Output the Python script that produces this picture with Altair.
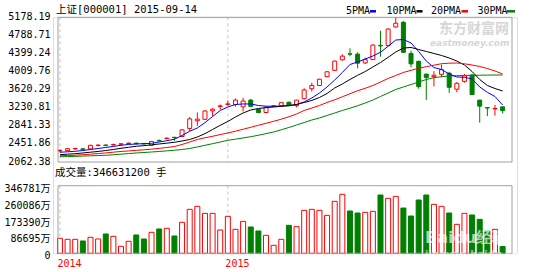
import altair as alt
import pandas as pd

# ---------------- data ----------------
opens = [2300, 2306, 2344, 2346, 2343, 2416, 2428, 2430, 2444, 2459,
         2468, 2462, 2420, 2526, 2565, 2595, 2612, 2785, 2950, 2982,
         3165, 3258, 3300, 3300, 3250, 3395, 3195, 3128, 3262, 3270,
         3350, 3275, 3425, 3640, 3708, 3900, 4035, 4262, 4392, 4385,
         4195, 4268, 4575, 4570, 4970, 5070, 4400, 4230, 3955, 3900,
         3950, 3975, 3630, 3800, 3935, 3395, 3235, 3205, 3250]
closes = [2310, 2349, 2352, 2334, 2422, 2426, 2418, 2440, 2454, 2468,
          2456, 2452, 2505, 2518, 2576, 2588, 2755, 2990, 2985, 3161,
          3200, 3270, 3315, 3395, 3375, 3260, 3128, 3245, 3272, 3340,
          3280, 3395, 3613, 3710, 3845, 4005, 4235, 4342, 4385, 4190,
          4265, 4580, 4562, 4925, 5050, 4425, 4175, 3684, 3880, 3930,
          4050, 3671, 3757, 3918, 3515, 3265, 3225, 3215, 3170]
highs = [2340, 2362, 2370, 2358, 2432, 2445, 2442, 2455, 2468, 2482,
         2478, 2472, 2515, 2548, 2592, 2600, 2765, 3030, 3130, 3175,
         3220, 3300, 3385, 3430, 3440, 3420, 3205, 3255, 3285, 3350,
         3360, 3400, 3650, 3770, 3855, 4020, 4245, 4380, 4510, 4425,
         4310, 4595, 4890, 4940, 5178.19, 5100, 4460, 4245, 3960, 4020,
         4160, 4005, 3780, 3960, 3965, 3400, 3240, 3290, 3255]
lows = [2270, 2295, 2330, 2322, 2335, 2400, 2402, 2415, 2430, 2444,
        2440, 2438, 2412, 2500, 2550, 2520, 2600, 2725, 2840, 2970,
        3045, 3190, 3270, 3255, 3150, 3245, 3110, 3115, 3250, 3262,
        3265, 3240, 3410, 3580, 3700, 3890, 4025, 4245, 4340, 4080,
        4175, 4260, 4330, 4560, 4955, 4410, 4100, 3640, 3400, 3690,
        3886, 3550, 3565, 3770, 3505, 2910, 3050, 3060, 3110]
volumes = [76900, 71700, 71700, 63200, 82000, 73500, 99100, 87100, 35900, 61500,
           94000, 73500, 107600, 124700, 128100, 88800, 158900, 225500, 240900, 205000,
           205000, 119600, 189600, 123000, 164000, 135000, 114500, 92200, 41000, 71700,
           143500, 136700, 220400, 225500, 220400, 194700, 266500, 302400, 217000, 206700,
           210100, 215200, 299000, 281900, 292100, 232300, 191300, 273300, 299000, 251100,
           240900, 206700, 148600, 205000, 196500, 174200, 114500, 123000, 34663.12]
ma5 = [2272, 2282, 2293, 2310, 2332, 2353, 2375, 2397, 2422, 2440,
       2450, 2457, 2465, 2493, 2521, 2552, 2633, 2724, 2795, 2909,
       3042, 3172, 3247, 3301, 3312, 3312, 3279, 3264, 3262, 3268,
       3279, 3301, 3355, 3441, 3548, 3678, 3828, 3990, 4162, 4216,
       4280, 4345, 4425, 4554, 4689, 4700, 4625, 4442, 4237, 4097,
       4054, 3957, 3893, 3886, 3850, 3678, 3563, 3473, 3290]
ma10 = [2220, 2231, 2241, 2257, 2274, 2289, 2310, 2332, 2358, 2379,
        2401, 2414, 2433, 2450, 2468, 2487, 2515, 2547, 2601, 2672,
        2763, 2853, 2935, 3032, 3118, 3182, 3215, 3232, 3247, 3262,
        3273, 3301, 3344, 3387, 3451, 3538, 3656, 3742, 3839, 3929,
        4011, 4108, 4205, 4317, 4431, 4517, 4528, 4485, 4442, 4399,
        4356, 4302, 4237, 4151, 4011, 3839, 3710, 3645, 3591]
ma20 = [2196, 2203, 2209, 2220, 2231, 2244, 2257, 2274, 2289, 2300,
        2313, 2325, 2338, 2356, 2375, 2395, 2440, 2493, 2547, 2584,
        2616, 2653, 2687, 2726, 2767, 2810, 2853, 2896, 2939, 2984,
        3036, 3096, 3172, 3225, 3279, 3344, 3402, 3467, 3533, 3596,
        3650, 3710, 3785, 3861, 3925, 3990, 4037, 4080, 4115, 4147,
        4179, 4190, 4194, 4177, 4151, 4119, 4076, 4022, 3957]
ma30 = [2175, 2179, 2183, 2190, 2196, 2201, 2207, 2218, 2231, 2244,
        2257, 2267, 2278, 2289, 2302, 2315, 2332, 2353, 2386, 2422,
        2457, 2493, 2530, 2554, 2580, 2607, 2638, 2674, 2709, 2756,
        2806, 2859, 2913, 2967, 3010, 3064, 3118, 3172, 3221, 3273,
        3333, 3398, 3473, 3548, 3624, 3678, 3731, 3785, 3839, 3878,
        3899, 3914, 3921, 3925, 3929, 3931, 3934, 3936, 3936]

price_ticks = [2062.38, 2451.86, 2841.33, 3230.81, 3620.29, 4009.76, 4399.24, 4788.71, 5178.19]
vol_ticks = [0, 86695, 173390, 260086, 346781]
year_ticks = [1, 23]
year_labels = ["2014", "2015"]
title_text = "上证[000001] 2015-09-14"
vol_text = "成交量:346631200 手"
ma_names = ["5PMA", "10PMA", "20PMA", "30PMA"]
ma_fields = ["ma5", "ma10", "ma20", "ma30"]
watermark1 = "东方财富网"
watermark2 = "eastmoney.com"
watermark3 = "Baidu经验"
watermark4 = "jingyan.baidu.com"

# ---------------- style ----------------
RED = "#ff0000"
GREEN = "#008000"
MA_COLORS = ["#0000ff", "#000000", "#ff0000", "#008000"]
GRID = "#d9d9d9"
BORDER = "#a0a0a0"
MONO = "DejaVu Sans Mono, Noto Sans CJK SC"

n = len(opens)
df = pd.DataFrame({
    "idx": list(range(1, n + 1)), "o": opens, "c": closes, "h": highs, "l": lows,
    "v": volumes, "ma5": ma5, "ma10": ma10, "ma20": ma20, "ma30": ma30,
})
years_df = pd.DataFrame({"idx": year_ticks, "lab": year_labels})

W, H = 464, 236
x_dom = [0.744, 60.23]
xs = alt.Scale(domain=x_dom, nice=False, zero=False)
x_axis = alt.Axis(values=year_ticks, title=None, grid=False, domain=False, ticks=False,
                  labelExpr=f"datum.value == {year_ticks[0]} ? '{year_labels[0]}' : '{year_labels[1]}'",
                  labelColor=RED, labelFont=MONO, labelFontSize=10, labelAlign="left",
                  labelOffset=-3, labelPadding=5, labelFlush=False, orient="bottom")

price_scale = alt.Scale(domain=[price_ticks[0], price_ticks[-1]], range=[144.7, 0], nice=False, zero=False)
price_axis = alt.Axis(values=price_ticks, format=".2f", orient="left", title=None, domain=False,
                      ticks=False, labelPadding=3, labelFont=MONO, labelFontSize=10,
                      labelColor="black", labelOverlap=False, labelOffset=-1,
                      gridColor={"condition": {"test": "abs(datum.value - 3620.29) < 0.01", "value": BORDER},
                                 "value": GRID})
vol_scale = alt.Scale(domain=[vol_ticks[0], vol_ticks[-1]], range=[236, 168.4], nice=False, zero=False)
vol_axis = alt.Axis(values=vol_ticks, orient="left", title=None, domain=False, ticks=False,
                    labelPadding=3, labelFont=MONO, labelFontSize=10, labelColor="black",
                    labelOverlap=False, labelOffset=2.5, gridColor=GRID,
                    labelExpr="datum.value == 0 ? '0' : datum.value + '万'")


def X(field="idx"):
    return alt.X(field, type="quantitative", scale=xs, axis=x_axis)


def PY(field):
    return alt.Y(field, type="quantitative", scale=price_scale, axis=price_axis)


def VY(field):
    return alt.Y(field, type="quantitative", scale=vol_scale, axis=vol_axis)


up = "datum.c >= datum.o"
base = alt.Chart(df)

# ---------------- upper panel (price) ----------------
p_dash = alt.Chart(years_df).mark_rule(color="#c4c4c4", strokeDash=[3, 3], strokeWidth=1).encode(
    x=X(), y=alt.YDatum(price_ticks[-1], type="quantitative", scale=price_scale, axis=price_axis),
    y2=alt.datum(price_ticks[0]))
wick = base.mark_rule(strokeWidth=1).encode(
    x=X(), y=PY("l"), y2=alt.Y2("h"),
    color=alt.condition(up, alt.value(RED), alt.value(GREEN)))
body = base.mark_bar(width=4, strokeWidth=1).encode(
    x=X(), y=PY("o"), y2=alt.Y2("c"),
    fill=alt.condition(up, alt.value("white"), alt.value(GREEN)),
    stroke=alt.condition(up, alt.value(RED), alt.value(GREEN)))
ma_lines = [base.mark_line(color=col, strokeWidth=1).encode(x=X(), y=PY(f))
            for f, col in zip(ma_fields, MA_COLORS)]
one = pd.DataFrame({"k": [0]})
p_border = alt.Chart(one).mark_rect(fill="white", fillOpacity=0, stroke=BORDER, strokeWidth=1).encode(
    x=alt.XDatum(x_dom[0], type="quantitative", scale=xs, axis=x_axis), x2=alt.datum(x_dom[1]),
    y=alt.YDatum(price_ticks[-1], type="quantitative", scale=price_scale, axis=price_axis),
    y2=alt.datum(price_ticks[0]))
upper = alt.layer(p_dash, *ma_lines[3:], wick, body, *ma_lines[:3], p_border)

# ---------------- lower panel (volume) ----------------
v_dash = alt.Chart(years_df).mark_rule(color="#c4c4c4", strokeDash=[3, 3], strokeWidth=1).encode(
    x=X(), y=alt.YDatum(vol_ticks[-1], type="quantitative", scale=vol_scale, axis=vol_axis),
    y2=alt.datum(vol_ticks[0]))
vbars = base.mark_bar(width=5, strokeWidth=1).encode(
    x=X(), y=VY("v"), y2=alt.datum(0),
    fill=alt.condition(up, alt.value("white"), alt.value(GREEN)),
    stroke=alt.condition(up, alt.value(RED), alt.value(GREEN)))
v_border = alt.Chart(one).mark_rect(fill="white", fillOpacity=0, stroke=BORDER, strokeWidth=1).encode(
    x=alt.XDatum(x_dom[0], type="quantitative", scale=xs, axis=x_axis), x2=alt.datum(x_dom[1]),
    y=alt.YDatum(vol_ticks[-1], type="quantitative", scale=vol_scale, axis=vol_axis),
    y2=alt.datum(vol_ticks[0]))
lower = alt.layer(v_dash, vbars, v_border)


# ---------------- texts ----------------
def label(txt, x, y, size=10.5, color="black", weight="normal", align="left", font=MONO,
          opacity=1.0, style="normal"):
    return alt.Chart(pd.DataFrame({"t": [txt]})).mark_text(
        align=align, baseline="middle", font=font, fontSize=size, color=color,
        fontWeight=weight, opacity=opacity, fontStyle=style).encode(
        x=alt.value(x), y=alt.value(y), text="t:N")


wm = [
    label(watermark1, 386, 11.5, size=14, color="#d6d6d6", weight="bold", font="Noto Sans CJK SC"),
    label(watermark2, 377, 25.5, size=9, color="#d6d6d6", weight="bold", font="DejaVu Sans",
          style="italic"),
]
texts = [label(title_text, 3, -7.3), label(vol_text, 2, 155.4)]
legend_x = [(293, 317, 323), (333.5, 363.5, 369.5), (378, 408.5, 415), (424.5, 454, 462)]
for name, col, (tx, r1, r2) in zip(ma_names, MA_COLORS, legend_x):
    texts.append(label(name, tx, -6.3, size=10))
    texts.append(alt.Chart(one).mark_rule(color=col, strokeWidth=2.5).encode(
        x=alt.value(r1), x2=alt.value(r2), y=alt.value(-6)))
bd = [
    label(watermark3, 372, 221, size=16, color="white", weight="bold", font="DejaVu Sans", opacity=0.65),
    label(watermark4, 372, 238, size=10, color="white", weight="bold", font="DejaVu Sans", opacity=0.55),
]

chart = alt.layer(*wm, upper, lower, *texts, *bd).resolve_scale(y="independent").properties(
    width=W, height=H,
    padding={"left": 53, "top": 17.3, "right": 18, "bottom": 18.7},
    autosize=alt.AutoSizeParams(type="none"),
).configure_view(strokeWidth=0).configure(background="white")

chart.save("out.html", embed_options={"renderer": "svg", "actions": False})
